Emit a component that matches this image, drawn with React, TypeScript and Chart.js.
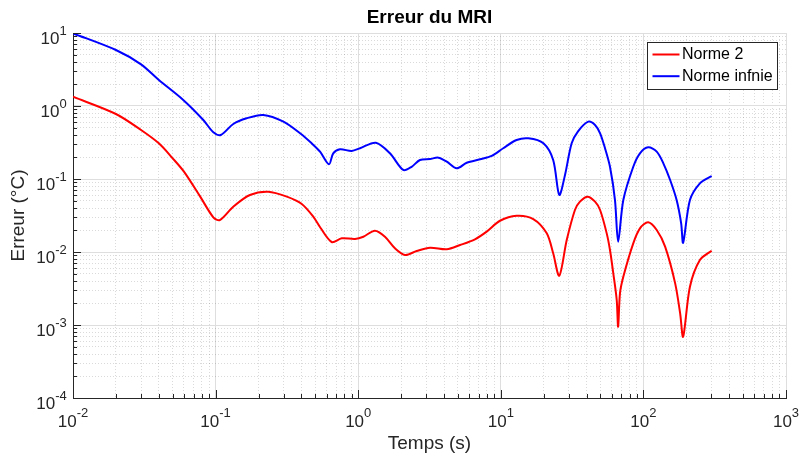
import React, { useEffect, useRef } from 'react';
import { Chart, registerables } from 'chart.js';

Chart.register(...registerables);

const chartTitle = 'Erreur du MRI';
const xAxisTitle = 'Temps (s)';
const yAxisTitle = 'Erreur (°C)';
const seriesNames = ['Norme 2', 'Norme infnie'];
const seriesColors = ['#ff0000', '#0000ff'];
const tickBase = '10';
const xTickExponents = ['-2', '-1', '0', '1', '2', '3'];
const yTickExponents = ['-4', '-3', '-2', '-1', '0', '1'];
const minorMultipliers = [2, 3, 4, 5, 6, 7, 8, 9];

const norm2Time = [
  0.01, 0.02, 0.03, 0.04, 0.05, 0.06, 0.078, 0.0964, 0.107, 0.133, 0.174, 0.234,
  0.316, 0.402, 0.484, 0.545, 0.652, 0.766, 0.95, 1.087, 1.31, 1.54, 1.81, 2.13,
  2.57, 3.19, 4.18, 5.18, 6.59, 7.96, 9.87, 12.9, 16.9, 21.0, 23.3, 25.7, 29.0,
  33.1, 35.9, 40.6, 45.8, 49.7, 55.3, 58.3, 61.5, 65.0, 66.5, 68.5, 72.3, 84.9,
  94.6, 108, 124, 142, 167, 181, 190, 212, 249, 301,
];
const norm2Error = [
  1.34, 0.777, 0.469, 0.308, 0.192, 0.126, 0.0573, 0.0299, 0.0274, 0.0418, 0.0604, 0.067,
  0.0573, 0.0455, 0.0305, 0.0213, 0.0137, 0.0154, 0.0151, 0.0162, 0.0196, 0.0162, 0.01124, 0.0091,
  0.01032, 0.01146, 0.0109, 0.01247, 0.01493, 0.019, 0.0268, 0.0314, 0.0283, 0.018, 0.0096, 0.00473, 0.0146,
  0.0376, 0.0489, 0.0573, 0.0489, 0.0376, 0.018, 0.01064, 0.0051, 0.0022, 0.000948, 0.00272, 0.00459, 0.01315,
  0.0211, 0.0255, 0.02, 0.01183, 0.00372, 0.00144, 0.000692, 0.00335, 0.00776, 0.01042,
];

const normInfTime = [
  0.01, 0.02, 0.03, 0.04, 0.0593, 0.082, 0.0964, 0.1087, 0.133, 0.165, 0.216, 0.299,
  0.391, 0.472, 0.54, 0.624, 0.668, 0.745, 0.9, 1.03, 1.33, 1.67, 2.07, 2.37,
  2.71, 3.19, 3.65, 4.18, 4.91, 5.77, 7.15, 8.63, 10.4, 12.9, 15.6, 19.9, 23.3,
  25.7, 28.2, 31.4, 34.8, 41.1, 45.8, 49.7, 53.8, 58.3, 63.2, 66.5, 72.3, 84.9,
  94.6, 108, 124, 138, 154, 171, 184, 190, 212, 249, 301,
];
const normInfError = [
  9.9, 5.85, 3.72, 2.27, 1.21, 0.643, 0.436, 0.401, 0.567, 0.679, 0.753, 0.61,
  0.423, 0.308, 0.237, 0.159, 0.225, 0.255, 0.242, 0.264, 0.314, 0.225, 0.133, 0.147,
  0.182, 0.188, 0.196, 0.173, 0.14, 0.167, 0.186, 0.207, 0.264, 0.342, 0.361, 0.308, 0.182,
  0.0604, 0.1135, 0.308, 0.45, 0.61, 0.55, 0.423, 0.264, 0.147, 0.0515, 0.01384, 0.0515, 0.147,
  0.225, 0.272, 0.237, 0.164, 0.0968, 0.0515, 0.0247, 0.0134, 0.0515, 0.0873, 0.11,
];

const FONT = "'Liberation Sans', Arial, Helvetica, sans-serif";
const AXIS_COLOR = '#262626';
const MAJOR_GRID = '#dedede';
const MINOR_GRID = 'rgba(38,38,38,0.17)';

function buildLogTicks(exps: string[]) {
  const ticks: { value: number; major: boolean }[] = [];
  const nums = exps.map(Number);
  nums.forEach((e, idx) => {
    ticks.push({ value: Math.pow(10, e), major: true });
    if (idx < nums.length - 1) {
      minorMultipliers.forEach((m) => {
        ticks.push({ value: Number((m * Math.pow(10, e)).toPrecision(6)), major: false });
      });
    }
  });
  return ticks;
}

const decorPlugin = {
  id: 'matlabDecor',
  afterDraw(chart: any) {
    const ctx = chart.ctx as CanvasRenderingContext2D;
    const ca = chart.chartArea;
    const xs = chart.scales.x;
    const ys = chart.scales.y;
    ctx.save();
    // inner tick marks
    ctx.strokeStyle = AXIS_COLOR;
    ctx.lineWidth = 1;
    ctx.beginPath();
    xs.ticks.forEach((t: any) => {
      const px = Math.round(xs.getPixelForValue(t.value)) + 0.5;
      const len = t.major ? 8 : 4;
      ctx.moveTo(px, Math.round(ca.bottom));
      ctx.lineTo(px, Math.round(ca.bottom) - len);
    });
    ys.ticks.forEach((t: any) => {
      const py = Math.round(ys.getPixelForValue(t.value)) + 0.5;
      const len = t.major ? 8 : 4;
      ctx.moveTo(Math.round(ca.left), py);
      ctx.lineTo(Math.round(ca.left) + len, py);
    });
    ctx.stroke();

    // tick labels 10^n
    ctx.fillStyle = AXIS_COLOR;
    ctx.textBaseline = 'alphabetic';
    ctx.textAlign = 'left';
    const bigFont = `17px ${FONT}`;
    const smallFont = `13px ${FONT}`;
    xTickExponents.forEach((e) => {
      const px = xs.getPixelForValue(Math.pow(10, Number(e)));
      ctx.font = bigFont;
      const w1 = ctx.measureText(tickBase).width;
      ctx.font = smallFont;
      const w2 = ctx.measureText(e).width;
      const start = px - (w1 + w2) / 2;
      ctx.font = bigFont;
      ctx.fillText(tickBase, start, ca.bottom + 28.7);
      ctx.font = smallFont;
      ctx.fillText(e, start + w1, ca.bottom + 18.5);
    });
    yTickExponents.forEach((e) => {
      const py = ys.getPixelForValue(Math.pow(10, Number(e)));
      ctx.font = bigFont;
      const w1 = ctx.measureText(tickBase).width;
      ctx.font = smallFont;
      const w2 = ctx.measureText(e).width;
      const end = ca.left - 6.3;
      const start = end - w1 - w2;
      ctx.font = bigFont;
      ctx.fillText(tickBase, start, py + 10.5);
      ctx.font = smallFont;
      ctx.fillText(e, start + w1, py + 1.5);
    });

    // legend box
    ctx.font = `16px ${FONT}`;
    const names = chart.data.datasets.map((d: any) => d.label as string);
    const maxW = Math.max(...names.map((n: string) => ctx.measureText(n).width));
    const boxW = Math.round(5 + 27 + 3 + maxW + 4);
    const boxH = 47;
    const right = Math.round(ca.right - 9.5);
    const left = right - boxW + 0.5;
    const top = Math.round(ca.top + 9) + 0.5;
    ctx.fillStyle = '#ffffff';
    ctx.fillRect(left, top, boxW, boxH);
    ctx.strokeStyle = AXIS_COLOR;
    ctx.lineWidth = 1;
    ctx.strokeRect(left, top, boxW, boxH);
    chart.data.datasets.forEach((d: any, i: number) => {
      const y = top + 12 + i * 21.7;
      ctx.strokeStyle = d.borderColor;
      ctx.lineWidth = 2;
      ctx.beginPath();
      ctx.moveTo(left + 5, y);
      ctx.lineTo(left + 32, y);
      ctx.stroke();
      ctx.fillStyle = '#000';
      ctx.textBaseline = 'middle';
      ctx.fillText(d.label, left + 34.5, y + 0.5);
    });
    ctx.restore();
  },
};

export default function App() {
  const ref = useRef<HTMLCanvasElement>(null);
  useEffect(() => {
    const canvas = ref.current;
    if (!canvas) return;
    const gridColor = (c: any) => (c.tick && c.tick.major ? MAJOR_GRID : MINOR_GRID);
    const gridDash = (c: any) => (c.tick && !c.tick.major ? [1, 2] : []);
    const chart = new Chart(canvas, {
      type: 'line',
      data: {
        datasets: [
          {
            label: seriesNames[0],
            data: norm2Time.map((t, i) => ({ x: t, y: norm2Error[i] })),
            borderColor: seriesColors[0],
            backgroundColor: seriesColors[0],
            borderWidth: 2,
            pointRadius: 0,
            tension: 0.3,
            fill: false,
          },
          {
            label: seriesNames[1],
            data: normInfTime.map((t, i) => ({ x: t, y: normInfError[i] })),
            borderColor: seriesColors[1],
            backgroundColor: seriesColors[1],
            borderWidth: 2,
            pointRadius: 0,
            tension: 0.3,
            fill: false,
          },
        ],
      },
      options: {
        responsive: false,
        animation: false,
        devicePixelRatio: 1,
        layout: { padding: { left: 0, right: 14, top: 0, bottom: 0 } },
        plugins: {
          legend: { display: false },
          tooltip: { enabled: false },
          title: {
            display: true,
            text: chartTitle,
            fullSize: false,
            color: '#000',
            font: { family: FONT, size: 19, weight: 'bold', lineHeight: 1.2 },
            padding: { top: 6, bottom: 4.2 },
          },
        },
        scales: {
          x: {
            type: 'logarithmic',
            min: 0.01,
            max: 1000,
            afterBuildTicks: (s: any) => {
              s.ticks = buildLogTicks(xTickExponents);
            },
            afterFit: (s: any) => {
              s.height = 58;
            },
            ticks: { display: false },
            grid: { drawTicks: false, color: gridColor, lineWidth: 1 },
            border: { color: AXIS_COLOR, width: 1, dash: gridDash },
            title: {
              display: true,
              text: xAxisTitle,
              color: AXIS_COLOR,
              font: { family: FONT, size: 19, lineHeight: 1.2 },
              padding: { top: 0, bottom: 1.2 },
            },
          },
          y: {
            type: 'logarithmic',
            min: 0.0001,
            max: 10,
            afterBuildTicks: (s: any) => {
              s.ticks = buildLogTicks(yTickExponents);
            },
            afterFit: (s: any) => {
              s.width = 73;
            },
            ticks: { display: false },
            grid: { drawTicks: false, color: gridColor, lineWidth: 1 },
            border: { color: AXIS_COLOR, width: 1, dash: gridDash },
            title: {
              display: true,
              text: yAxisTitle,
              color: AXIS_COLOR,
              font: { family: FONT, size: 19, lineHeight: 1.2 },
              padding: { top: 7, bottom: 0 },
            },
          },
        },
      } as any,
      plugins: [decorPlugin],
    });
    return () => chart.destroy();
  }, []);
  return (
    <div style={{ position: 'fixed', left: 0, top: 0, width: 800, height: 456, background: '#ffffff' }}>
      <canvas ref={ref} width={800} height={456} style={{ display: 'block', width: 800, height: 456 }} />
    </div>
  );
}
